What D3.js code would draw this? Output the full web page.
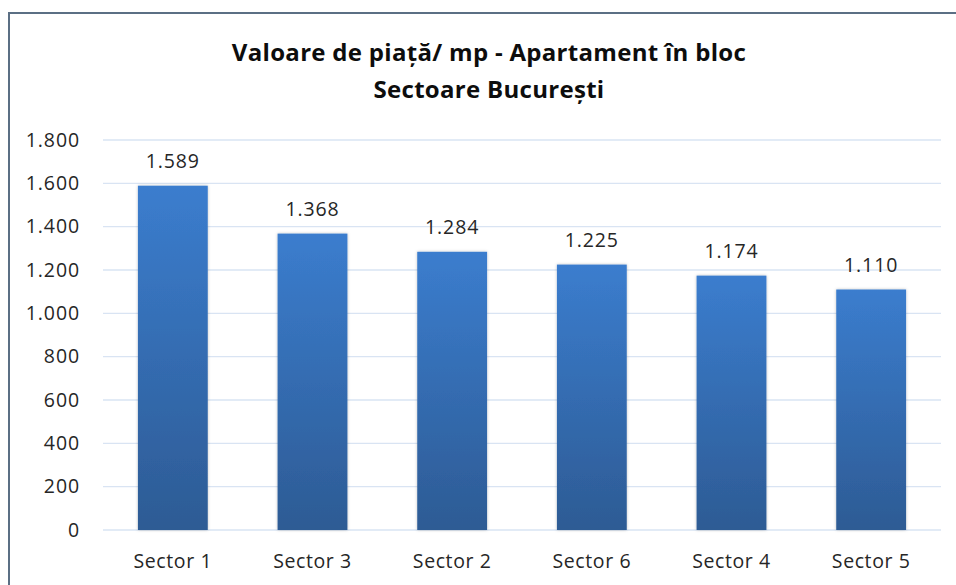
<!DOCTYPE html>
<html>
<head>
<meta charset="utf-8">
<script src="https://cdn.jsdelivr.net/npm/d3@7"></script>
<style>
  html, body { margin: 0; padding: 0; background: #fff; }
  svg { display: block; font-family: "Open Sans", Lato, sans-serif; }
</style>
</head>
<body>
<div id="chart"></div>
<script>
// chart values
var sectors = ["Sector 1", "Sector 3", "Sector 2", "Sector 6", "Sector 4", "Sector 5"];
var values = [1589, 1368, 1284, 1225, 1174, 1110];
var yTicks = [0, 200, 400, 600, 800, 1000, 1200, 1400, 1600, 1800];
var titleLines = ["Valoare de piață/ mp - Apartament în bloc", "Sectoare București"];

var width = 956, height = 585;
var plotLeft = 103, plotRight = 941, plotTop = 140, plotBottom = 530;
var fontFam = "'Open Sans', Lato, sans-serif";

var ro = d3.formatLocale({ decimal: ",", thousands: ".", grouping: [3], currency: ["", ""] });
var fmt = ro.format(",d");

var svg = d3.select("#chart")
    .append("svg")
    .attr("width", width)
    .attr("height", height);

// gradient for the bars
var defs = svg.append("defs");
var grad = defs.append("linearGradient")
    .attr("id", "barGrad")
    .attr("x1", 0).attr("y1", 0).attr("x2", 0).attr("y2", 1);
grad.append("stop").attr("offset", "0%").attr("stop-color", "#3b7dce");
grad.append("stop").attr("offset", "100%").attr("stop-color", "#2d5b94");

var shadow = defs.append("filter").attr("id", "shadow")
    .attr("x", "-20%").attr("y", "-10%").attr("width", "140%").attr("height", "120%");
shadow.append("feDropShadow")
    .attr("dx", 0).attr("dy", 0).attr("stdDeviation", 1.5)
    .attr("flood-color", "#000").attr("flood-opacity", 0.25);

// outer frame (cropped on right and bottom)
svg.append("path")
    .attr("d", "M9," + height + " V13 H" + width)
    .attr("fill", "none")
    .attr("stroke", "#5b6f84")
    .attr("stroke-width", 2);

var x = d3.scaleBand()
    .domain(sectors)
    .range([plotLeft, plotRight])
    .paddingInner(0.5)
    .paddingOuter(0.25);

var y = d3.scaleLinear()
    .domain([0, 1800])
    .range([plotBottom, plotTop]);

// gridlines
svg.append("g")
    .selectAll("line")
    .data(yTicks)
    .enter()
    .append("line")
    .attr("x1", plotLeft)
    .attr("x2", plotRight)
    .attr("y1", function (d) { return y(d); })
    .attr("y2", function (d) { return y(d); })
    .attr("stroke", "#d9e4f3")
    .attr("stroke-width", 1.3);

// y axis labels
var yAxis = svg.append("g")
    .attr("transform", "translate(" + plotLeft + ",0)")
    .call(d3.axisLeft(y).tickValues(yTicks).tickFormat(fmt).tickSize(0).tickPadding(23));
yAxis.select(".domain").remove();
yAxis.selectAll("text")
    .attr("font-size", 19.5)
    .attr("fill", "#262626")
    .attr("letter-spacing", 0.9)
    .style("font-family", fontFam);

// bars
svg.append("g")
    .selectAll("rect")
    .data(values)
    .enter()
    .append("rect")
    .attr("x", function (d, i) { return x(sectors[i]); })
    .attr("width", x.bandwidth())
    .attr("y", function (d) { return y(d); })
    .attr("height", function (d) { return y(0) - y(d); })
    .attr("fill", "url(#barGrad)")
    .attr("filter", "url(#shadow)");

// value labels
svg.append("g")
    .selectAll("text")
    .data(values)
    .enter()
    .append("text")
    .attr("x", function (d, i) { return x(sectors[i]) + x.bandwidth() / 2; })
    .attr("y", function (d) { return y(d) - 18; })
    .attr("text-anchor", "middle")
    .attr("font-size", 19.5)
    .attr("letter-spacing", 0.9)
    .attr("fill", "#262626")
    .text(fmt);

// x axis labels
var xAxis = svg.append("g")
    .attr("transform", "translate(0," + plotBottom + ")")
    .call(d3.axisBottom(x).tickSize(0).tickPadding(24));
xAxis.select(".domain").remove();
xAxis.selectAll("text")
    .attr("font-size", 19.5)
    .attr("fill", "#262626")
    .attr("letter-spacing", 0.6)
    .style("font-family", fontFam);

// title
svg.append("text")
    .attr("x", 489)
    .attr("y", 61)
    .attr("text-anchor", "middle")
    .attr("font-size", 24)
    .attr("font-weight", "bold")
    .attr("letter-spacing", 0.3)
    .attr("fill", "#0d0d0d")
    .selectAll("tspan")
    .data(titleLines)
    .enter()
    .append("tspan")
    .attr("x", 489)
    .attr("dy", function (d, i) { return i === 0 ? 0 : 37; })
    .text(function (d) { return d; });
</script>
</body>
</html>
